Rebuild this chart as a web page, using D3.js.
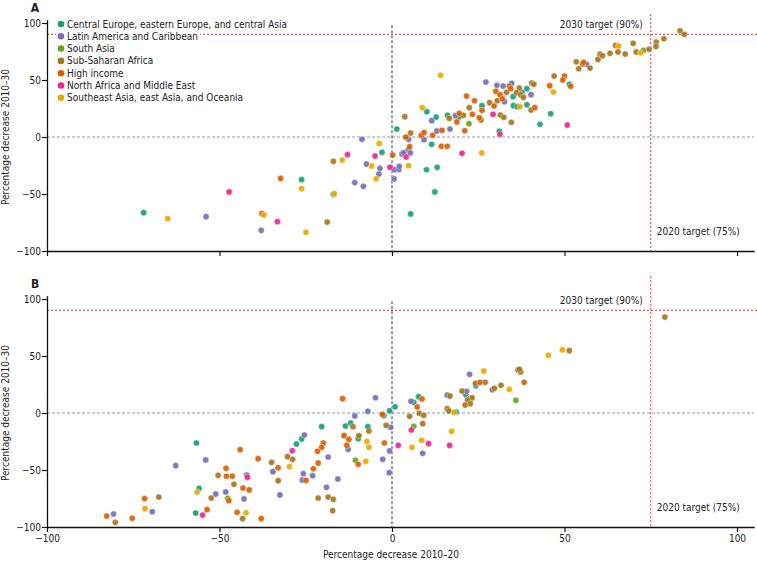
<!DOCTYPE html>
<html><head><meta charset="utf-8">
<script src="https://cdn.jsdelivr.net/npm/d3@7"></script>
<style>
body{margin:0;background:#fff;}
svg{display:block;}
text{font-family:"Liberation Sans Narrow","DejaVu Sans Condensed","Open Sans",sans-serif;}
</style></head>
<body><svg id="c" width="757" height="563"></svg>
<script>
const regions = ["Central Europe, eastern Europe, and central Asia","Latin America and Caribbean","South Asia","Sub-Saharan Africa","High income","North Africa and Middle East","Southeast Asia, east Asia, and Oceania"];
const regionColors = ["#1b9e77","#7570b3","#66a61e","#a6761d","#d95f02","#e7298a","#e6ab02"];
const xTicks = [-100,-50,0,50,100];
const yTicks = [-100,-50,0,50,100];

// Panel A: [region index, decrease 2010-20, decrease 2010-30]
const panelA = [
[0,-72,-66.4],[0,-26.2,-37.4],[0,1.4,7],[0,10.1,22.2],[0,12.8,17.5],[0,16.1,19],[0,11.5,-6.4],[0,-2.9,-13.5],[0,10,-28.7],[0,13.1,-26.6],[0,12.4,-48.2],[0,5.4,-67.5],[0,-17,-50.3],[0,37.7,39.2],[0,39.1,42.4],[0,35.1,35.4],[0,35.2,27.5],[0,36.3,26.6],[0,39.1,28.3],[0,51.4,46.2],[0,46,20.4],[0,42.9,11.1],[0,26.1,27.5],[0,31.1,5],[0,19.5,17.8],
[1,-53.9,-69.9],[1,-37.9,-81.9],[1,11.5,14.3],[1,18.4,18.7],[1,4.8,-2],[1,9.3,-2.3],[1,13,5.3],[1,16.8,7],[1,-8.7,-2],[1,2.9,-14.9],[1,3.4,-13.7],[1,4.8,-10.8],[1,5.3,-14],[1,-7.4,-23.7],[1,-3.5,-27.5],[1,-3.8,-32.5],[1,0.7,-28.7],[1,2,-28.4],[1,2.1,-25.7],[1,0.6,-36.8],[1,-10.8,-40],[1,-8.3,-43.3],[1,27.2,48.2],[1,30.4,45.3],[1,32.2,44.7],[1,34.7,47.1],[1,40.3,37.1],[1,32.6,31],[1,56.4,63.8],
[2,22.3,11.7],[2,72.9,76],
[3,3.7,17.8],[3,16.6,16.4],[3,5.4,3.5],[3,-17,-21.3],[3,-18.8,-74.6],[3,34,44.7],[3,36.9,43],[3,33.2,39.2],[3,36.1,38.9],[3,37.3,37.1],[3,40.5,47.4],[3,41.1,46.2],[3,38.1,34.8],[3,30.5,31.8],[3,28.3,30.1],[3,40.3,23.7],[3,47,53.5],[3,53.4,66],[3,54.1,59.9],[3,34.6,12.9],[3,31.4,19.3],[3,32.4,17.3],[3,25.8,14.9],[3,22.4,25.7],[3,20.7,19],[3,55.2,64],[3,57.4,60.5],[3,59.7,68.1],[3,60.3,72.8],[3,61,71.3],[3,63.2,73.4],[3,64.8,80.4],[3,65.5,74.6],[3,67.6,72.8],[3,69.9,82.2],[3,70.8,74.6],[3,74.5,76.9],[3,76.6,83.3],[3,76.5,79.5],[3,78.8,86.2],[3,83.5,93.2],[3,84.7,90.1],
[4,-32.3,-36.3],[4,-37.7,-67.2],[4,18.8,13.2],[4,19.5,20.8],[4,4,0],[4,8.5,1.5],[4,9.3,3.8],[4,11.8,1.5],[4,14.5,5.8],[4,14.3,-8.2],[4,16,-8.2],[4,0.2,-15.8],[4,5.1,-8.5],[4,34.4,42.4],[4,30.1,40.1],[4,31.3,37.1],[4,32,33.6],[4,29.6,27.2],[4,41.4,25.7],[4,45.7,45],[4,50,53.5],[4,49.5,50],[4,51.8,44.5],[4,26.1,23.4],[4,25.3,16.9],[4,23.3,19.9],[4,23.9,31.8],[4,21.6,35.9],[4,21.1,5.5],[4,55.5,65.5],
[5,-47.2,-48.2],[5,-33.2,-74.3],[5,-12.9,-15.5],[5,-4.9,-16.7],[5,4.1,-17.5],[5,-0.6,-26.6],[5,29.3,19.9],[5,31.3,2.4],[5,50.8,10.5],[5,20.3,-14.3],
[6,-65,-71.6],[6,-26.2,-45.3],[6,-37.1,-68.4],[6,-24.9,-83.6],[6,14.1,54.1],[6,8.8,25.7],[6,-3.7,-5.6],[6,-14.4,-20.2],[6,-5.9,-25.4],[6,-4.6,-36.6],[6,4.8,-25.2],[6,-16.7,-49.7],[6,37.1,26.6],[6,46.8,39.5],[6,26,-14],[6,65.7,79.8],[6,72.1,73.9]
];

// Panel B: [region index, decrease 2010-20, decrease 2010-30]
const panelB = [
[0,-56.7,-26.3],[0,-55.9,-66.1],[0,-56.9,-87.7],[0,-2.4,-2.3],[0,-0.7,2],[0,0.9,5.5],[0,-13.5,-11.4],[0,-12,-8.8],[0,-7,-12],[0,-9.8,-22.5],[0,-20.4,-12],[0,-26.2,-22.8],[0,-27.7,-27.2],[0,24.3,24],[0,21.4,16.1],[0,18.6,0.9],[0,6.3,9.4],[0,7.7,14.3],
[1,-54,-41.2],[1,-62.7,-46.2],[1,-51.1,-71.1],[1,-69.5,-86.6],[1,-80.7,-88.6],[1,-4.8,13.4],[1,-7,1.5],[1,-10.8,-2.6],[1,-0.4,-12.5],[1,-12.7,-31.9],[1,-0.7,-33.3],[1,-2.7,-40.6],[1,-0.8,-52.3],[1,-25.4,-19.3],[1,-18.5,-38.6],[1,-23,-55],[1,-15.7,-57.9],[1,-25.7,-53.2],[1,-26,-58.8],[1,-34.5,-51.5],[1,-32.5,-71.9],[1,-19,-65.2],[1,-42.1,-54.4],[1,-48.2,-69.3],[1,-42.9,-75.4],[1,22.5,33.9],[1,29.1,20.4],[1,21.6,19],[1,16,15.8],[1,5.5,10.3],[1,8.9,-35.4],
[2,-10.6,-41.5],[2,-47.6,-74.8],[2,35.9,11.1],[2,6.3,-11.7],
[3,-50.4,-54.7],[3,-52.4,-74.6],[3,-67.6,-73.7],[3,-80.2,-95.9],[3,-11.3,-12],[3,-6.7,-15.8],[3,-1.7,-10.8],[3,-9.6,-19.9],[3,-30.3,-38.3],[3,-28.8,-40.6],[3,-34.9,-43.3],[3,-33,-59.4],[3,-21.4,-74.6],[3,-18.5,-73.7],[3,-17,-75.7],[3,-17.2,-85.7],[3,-45.8,-62.5],[3,-43.3,-92.7],[3,51.4,54.7],[3,36.5,37.7],[3,37.3,36],[3,36.9,38.3],[3,24.2,26],[3,27,26.9],[3,31.6,24.3],[3,29.7,21.7],[3,20.3,19.3],[3,22.6,12.9],[3,23.2,13.2],[3,21.9,11.4],[3,22.7,8.2],[3,21.2,7],[3,16.8,14.9],[3,16,3.8],[3,16.5,1.8],[3,7.9,-0.3],[3,9.2,-2],[3,5.1,-2.9],[3,8.9,-9.4],[3,79.1,84.2],
[4,-71.7,-75.1],[4,-53.6,-84.8],[4,-82.7,-90.4],[4,-75.3,-92.4],[4,-14.3,12.6],[4,-2.8,-1.1],[4,-13.9,-19.9],[4,-12.5,-23.1],[4,-13.1,-28.4],[4,-2.2,-26.3],[4,-9.8,-45],[4,-19.9,-26.3],[4,-20.4,-30.1],[4,-21.6,-33.6],[4,-21.4,-43.9],[4,-22.8,-48.9],[4,-24.9,-59.1],[4,-33,-48],[4,-38.8,-40.1],[4,-44,-32.2],[4,-48.1,-48.5],[4,-48,-55.5],[4,-46.3,-55.5],[4,-43.2,-65.8],[4,-41.4,-67.5],[4,-47.3,-76.9],[4,-44.9,-87.1],[4,-37.9,-92.7],[4,38.3,26.9],[4,25.5,26.9],[4,8.7,12.3],[4,7.3,5.3],
[5,-54.9,-89.5],[5,1.8,-28.4],[5,-28.9,-33.1],[5,-41.9,-56.4],[5,16.7,-28.4],[5,5.6,-14.9],[5,10.6,-26.9],
[6,-56.5,-69.3],[6,-71.6,-83.9],[6,-7.3,-24.9],[6,-6.7,-30.1],[6,-7.6,-42.4],[6,-29.7,-47.1],[6,-42.3,-87.5],[6,45.3,50.6],[6,49.4,55.3],[6,26.6,36.8],[6,34,20.8],[6,18,0.6],[6,17.3,-16.1],[6,8.6,-24],[6,5.8,-30.1]
];

const svg = d3.select("#c");
const x = d3.scaleLinear().domain([-100,105]).range([47,754.25]);

function panel(data, top, letter, showXLabels, showLegend){
  const y = d3.scaleLinear().domain([-100,103]).range([top+228, top-3.4]);
  const g = svg.append("g");
  // reference lines
  g.append("line").attr("x1",x(-100)).attr("x2",757).attr("y1",y(90)).attr("y2",y(90))
    .attr("stroke","#f0504a").attr("stroke-width",1.2).attr("stroke-dasharray","2,2");
  g.append("line").attr("x1",x(-100)).attr("x2",x(105)).attr("y1",y(0)).attr("y2",y(0))
    .attr("stroke","#8a9ea8").attr("stroke-width",1.2).attr("stroke-dasharray","3,2");
  g.append("line").attr("x1",x(0)).attr("x2",x(0)).attr("y1",y(98)).attr("y2",y(-100))
    .attr("stroke","#3c5e86").attr("stroke-width",1.2).attr("stroke-dasharray","3,2");
  g.append("line").attr("x1",x(75)).attr("x2",x(75)).attr("y1",y(showLegend?108:120)).attr("y2",y(-100))
    .attr("stroke","#f0504a").attr("stroke-width",1.2).attr("stroke-dasharray","2,2");

  g.append("text").attr("x",x(75)-8).attr("y",y(90)-6).attr("text-anchor","end")
    .attr("font-size",10).attr("fill","#222").text("2030 target (90%)");
  g.append("text").attr("x",x(75)+6).attr("y",y(-100)-16)
    .attr("font-size",10).attr("fill","#222").text("2020 target (75%)");

  // axes
  const xa = d3.axisBottom(x).tickValues(xTicks).tickSize(5).tickSizeOuter(0);
  if(!showXLabels) xa.tickFormat("");
  const xg = g.append("g").attr("transform",`translate(0,${y(-100)})`).call(xa);
  const ya = d3.axisLeft(y).tickValues(yTicks).tickSize(5).tickSizeOuter(0);
  const yg = g.append("g").attr("transform",`translate(${x(-100)},0)`).call(ya);
  [xg,yg].forEach(a=>{
    a.select(".domain").attr("stroke","#111").attr("stroke-width",1.3);
    a.selectAll(".tick line").attr("stroke","#111").attr("stroke-width",1.2);
    a.selectAll(".tick text").attr("font-size",10).attr("fill","#222")
      .attr("font-family",'"Liberation Sans Narrow","DejaVu Sans Condensed",sans-serif');
  });
  yg.selectAll(".tick text").attr("x",-6);

  // points
  g.append("g").selectAll("circle").data(data).join("circle")
    .attr("cx",d=>x(d[1])).attr("cy",d=>y(d[2])).attr("r",3.1)
    .attr("fill",d=>regionColors[d[0]]).attr("fill-opacity",0.92)
    .attr("stroke","#fff").attr("stroke-width",0.4);

  // labels
  g.append("text").attr("x",35).attr("y",top-11).attr("text-anchor","middle")
    .attr("font-size",12).attr("font-weight","bold").attr("fill","#222").text(letter);
  g.append("text").attr("transform",`translate(9,${y(0)}) rotate(-90)`).attr("text-anchor","middle")
    .attr("font-size",10).attr("fill","#222").text("Percentage decrease 2010–30");

  if(showLegend){
    const lg = g.append("g");
    regions.forEach((r,i)=>{
      const row = lg.append("g").attr("transform",`translate(61,${24+i*12.3})`);
      const bg = row.append("rect").attr("fill","#fff");
      row.append("circle").attr("r",3.3).attr("fill",regionColors[i]);
      const t = row.append("text").attr("x",6).attr("y",3.5).attr("font-size",10).attr("fill","#222").text(r);
      const bb = t.node().getBBox();
      bg.attr("x",-5).attr("y",-6).attr("width",bb.x+bb.width+7).attr("height",12);
    });
  }
}

panel(panelA, 23, "A", false, true);
panel(panelB, 299, "B", true, false);

svg.append("text").attr("x",391).attr("y",558).attr("text-anchor","middle")
  .attr("font-size",10).attr("fill","#222").text("Percentage decrease 2010–20");
</script></body></html>
